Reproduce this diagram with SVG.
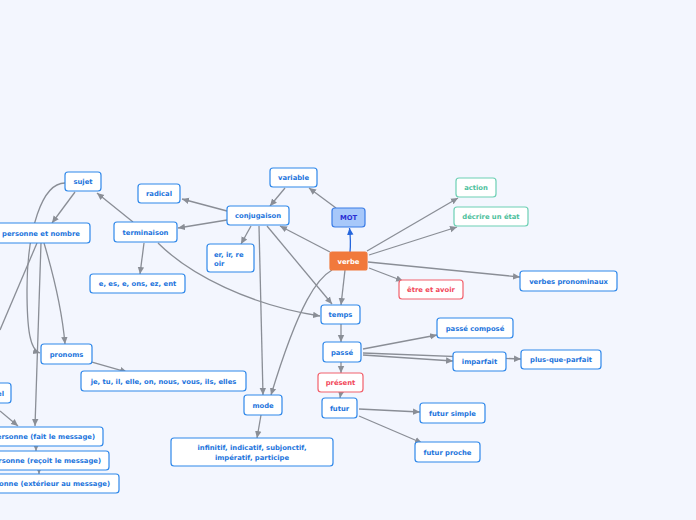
<svg xmlns="http://www.w3.org/2000/svg" width="696" height="520" viewBox="0 0 696 520">
<defs>
<marker id="ah" markerWidth="8" markerHeight="8" refX="7" refY="4" orient="auto" markerUnits="userSpaceOnUse"><path d="M0,0.8 L7,4 L0,7.2 z" fill="#8a8e96"/></marker>
<marker id="ahb" markerWidth="8" markerHeight="8" refX="7" refY="4" orient="auto" markerUnits="userSpaceOnUse"><path d="M0,0.8 L7,4 L0,7.2 z" fill="#2566dc"/></marker>
<style>
.n rect{fill:#fff;stroke:#2f88ea;stroke-width:1.2}
.n text{font-family:"DejaVu Sans",Verdana,sans-serif;font-weight:bold;font-size:6.8px;fill:#1c74dc;text-anchor:middle}
.g rect{stroke:#6dd0b4}
.g text{fill:#4dbf9c}
.r rect{stroke:#f2606c}
.r text{fill:#f2485a}
.c path{fill:none;stroke:#8a8e96;stroke-width:1.3;marker-end:url(#ah)}
.c path.nm{marker-end:none}
</style>
</defs>
<rect width="696" height="520" fill="#f3f6fe"/>
<g id="connectors" class="c">
<path d="M350,252 Q351,242 349.5,228" style="stroke:#2566dc;marker-end:url(#ahb)"/>
<path d="M336,208 L309,188"/>
<path d="M285,188 L270,206"/>
<path d="M330,252 L280,226"/>
<path d="M227,211 L182,199"/>
<path d="M227,220 L178,228"/>
<path d="M251,226 L241,244"/>
<path d="M259,226 L263,395"/>
<path d="M267,226 L332,304"/>
<path d="M133,222 L97,193"/>
<path d="M144,243 L140,274"/>
<path d="M158,243 C190,275 250,305 320,316"/>
<path d="M332,270 C318,278 300,300 271,395"/>
<path d="M345,270 L341,305"/>
<path d="M367,251 L458,198"/>
<path d="M369,255 L457,227"/>
<path d="M368,262 L520,277"/>
<path d="M369,268 L403,281"/>
<path d="M341,324 L341,342"/>
<path d="M341,362 L341,373"/>
<path d="M341,392 L340,398"/>
<path d="M363,349 L437,335"/>
<path d="M363,353 L521,359"/>
<path d="M363,355 L453,361"/>
<path d="M359,409 L420,412"/>
<path d="M359,416 L422,443"/>
<path d="M261,415 L257,438"/>
<path d="M75,192 L52,223"/>
<path d="M65,183 C42,183 27,230 27,290 C27,330 30,350 40,353"/>
<path class="nm" d="M37,243 L0,330"/>
<path d="M41,243 L35,426"/>
<path d="M44,243 C55,280 62,310 65,344"/>
<path d="M92,362 L127,372"/>
<path d="M0,411 L18,426"/>
<path d="M36,446 L36,451"/>
<path d="M39,470 L39,474"/>
</g>
<g id="sujet" class="n"><rect x="65" y="172" width="36" height="19" rx="3"/><text x="83" y="184">sujet</text></g>
<g id="radical" class="n"><rect x="138" y="184" width="42" height="19" rx="3"/><text x="159" y="196">radical</text></g>
<g id="variable" class="n"><rect x="270" y="168" width="47" height="19" rx="3"/><text x="293.5" y="180">variable</text></g>
<g id="conjugaison" class="n"><rect x="227" y="206" width="62" height="19" rx="3"/><text x="258" y="218">conjugaison</text></g>
<g id="mot" class="n"><rect x="332" y="208" width="33" height="19" rx="3" style="fill:#a7c8fa;stroke:#3a7ce6"/><text x="348.5" y="220" style="fill:#2b2fd4">MOT</text></g>
<g id="verbe" class="n"><rect x="330" y="252" width="37" height="18" rx="2" style="fill:#f1793b;stroke:#f1793b"/><text x="348.5" y="263.5" style="fill:#fff">verbe</text></g>
<g id="action" class="n g"><rect x="456" y="178" width="40" height="19" rx="3"/><text x="476" y="190">action</text></g>
<g id="decrire" class="n g"><rect x="454" y="207" width="74" height="19" rx="3"/><text x="491" y="219">décrire un état</text></g>
<g id="pronominaux" class="n"><rect x="520" y="271" width="97" height="20" rx="3"/><text x="568.5" y="283.5">verbes pronominaux</text></g>
<g id="etre" class="n r"><rect x="399" y="280" width="64" height="19" rx="3"/><text x="431" y="292">être et avoir</text></g>
<g id="personne" class="n"><rect x="-8" y="223" width="98" height="20" rx="3"/><text x="41" y="235.5">personne et nombre</text></g>
<g id="terminaison" class="n"><rect x="114" y="222" width="63" height="20" rx="3"/><text x="145.5" y="234.5">terminaison</text></g>
<g id="erir" class="n"><rect x="207" y="244" width="47" height="28" rx="3"/><text x="214" y="256.5" style="text-anchor:start">er, ir, re</text><text x="214" y="265.5" style="text-anchor:start">oir</text></g>
<g id="ees" class="n"><rect x="90" y="274" width="95" height="19" rx="3"/><text x="137.5" y="286">e, es, e, ons, ez, ent</text></g>
<g id="temps" class="n"><rect x="321" y="305" width="39" height="19" rx="3"/><text x="340.5" y="317">temps</text></g>
<g id="passe" class="n"><rect x="323" y="342" width="38" height="20" rx="3"/><text x="342" y="354.5">passé</text></g>
<g id="present" class="n r"><rect x="318" y="373" width="45" height="19" rx="3"/><text x="340.5" y="385">présent</text></g>
<g id="futur" class="n"><rect x="322" y="398" width="35" height="20" rx="3"/><text x="339.5" y="410.5">futur</text></g>
<g id="mode" class="n"><rect x="244" y="395" width="38" height="20" rx="3"/><text x="263" y="407.5">mode</text></g>
<g id="infinitif" class="n"><rect x="171" y="438" width="162" height="28" rx="3"/><text x="252" y="450">infinitif, indicatif, subjonctif,</text><text x="252" y="459.5">impératif, participe</text></g>
<g id="passecompose" class="n"><rect x="437" y="318" width="76" height="20" rx="3"/><text x="475" y="330.5">passé composé</text></g>
<g id="imparfait" class="n"><rect x="453" y="352" width="53" height="19" rx="3"/><text x="479.5" y="364">imparfait</text></g>
<g id="pqp" class="n"><rect x="521" y="350" width="80" height="19" rx="3"/><text x="561" y="362">plus-que-parfait</text></g>
<g id="futursimple" class="n"><rect x="420" y="403" width="65" height="20" rx="3"/><text x="452.5" y="415.5">futur simple</text></g>
<g id="futurproche" class="n"><rect x="415" y="442" width="65" height="20" rx="3"/><text x="447.5" y="454.5">futur proche</text></g>
<g id="pronoms" class="n"><rect x="41" y="344" width="51" height="20" rx="3"/><text x="66.5" y="356.5">pronoms</text></g>
<g id="jetu" class="n"><rect x="81" y="371" width="165" height="20" rx="3"/><text x="163.5" y="383.5">je, tu, il, elle, on, nous, vous, ils, elles</text></g>
<g id="pluriel" class="n"><rect x="-40" y="383" width="51" height="20" rx="3"/><text x="4" y="395.5" style="text-anchor:end">pluriel</text></g>
<g id="p1" class="n"><rect x="-40" y="427" width="143" height="19" rx="3"/><text x="95" y="439" style="text-anchor:end">1ère personne (fait le message)</text></g>
<g id="p2" class="n"><rect x="-40" y="451" width="149" height="19" rx="3"/><text x="101" y="463" style="text-anchor:end">2ème personne (reçoit le message)</text></g>
<g id="p3" class="n"><rect x="-40" y="474" width="159" height="19" rx="3"/><text x="110" y="486" style="text-anchor:end">3ème personne (extérieur au message)</text></g>
</svg>
